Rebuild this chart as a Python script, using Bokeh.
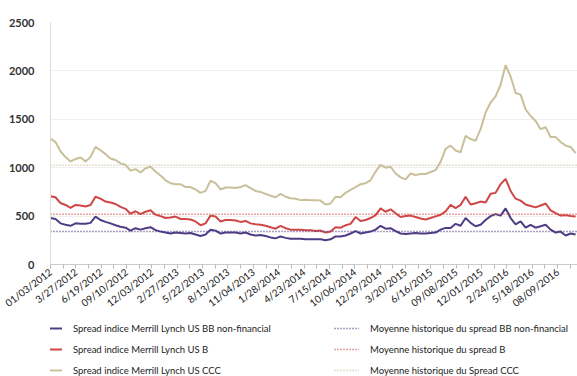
from bokeh.plotting import figure
from bokeh.layouts import column
from bokeh.models import FixedTicker, Legend, LegendItem, Range1d
from bokeh.embed import file_html
from bokeh.resources import INLINE

# x tick labels (every 60 business days)
tick_labels = ["01/03/2012", "3/27/2012", "6/19/2012", "09/10/2012", "12/03/2012",
               "2/27/2013", "5/22/2013", "8/13/2013", "11/04/2013", "1/28/2014",
               "4/23/2014", "7/15/2014", "10/06/2014", "12/29/2014", "3/20/2015",
               "6/16/2015", "09/08/2015", "12/01/2015", "2/24/2016", "5/18/2016",
               "08/09/2016"]
label_step_days = 60
sample_step_days = 11.834   # one reading about every 12 business days

ccc = [1300, 1265, 1170, 1110, 1065, 1090, 1105, 1065, 1110, 1215, 1180, 1140, 1095, 1080,
       1045, 1030, 970, 985, 950, 995, 1010, 960, 920, 870, 840, 830, 830, 800, 800, 775,
       740, 760, 865, 840, 775, 795, 795, 790, 800, 820, 790, 760, 750, 730, 710, 695, 730,
       700, 685, 680, 665, 670, 665, 665, 660, 620, 630, 700, 695, 740, 770, 800, 830, 840,
       870, 960, 1030, 1000, 1010, 940, 900, 880, 940, 925, 935, 935, 955, 975, 1060, 1195,
       1228, 1177, 1160, 1330, 1296, 1279, 1398, 1571, 1673, 1738, 1857, 2060, 1942, 1772,
       1755, 1602, 1534, 1483, 1398, 1418, 1316, 1316, 1265, 1228, 1214, 1150]
b = [705, 695, 635, 615, 585, 615, 610, 600, 615, 700, 680, 650, 640, 625, 595, 575, 525,
     550, 520, 545, 560, 515, 500, 480, 485, 495, 470, 470, 465, 445, 405, 425, 505, 495,
     445, 460, 460, 455, 440, 450, 425, 415, 410, 400, 385, 370, 400, 375, 360, 360, 360,
     355, 355, 345, 350, 330, 340, 385, 380, 405, 420, 490, 450, 460, 480, 510, 580, 545,
     570, 530, 490, 500, 505, 490, 475, 465, 480, 497, 514, 548, 616, 582, 616, 700, 620,
     633, 650, 640, 730, 740, 830, 885, 760, 680, 660, 620, 605, 590, 610, 630, 560, 530,
     505, 510, 500, 495]
bb = [480, 470, 425, 410, 400, 425, 420, 420, 430, 495, 460, 440, 425, 405, 390, 380, 350,
      375, 360, 375, 385, 355, 340, 330, 320, 330, 325, 320, 325, 310, 295, 310, 360, 350,
      320, 330, 330, 330, 320, 330, 310, 300, 305, 295, 280, 270, 290, 275, 265, 265, 265,
      260, 260, 260, 260, 250, 260, 290, 290, 300, 320, 345, 320, 330, 340, 360, 400, 370,
      375, 345, 320, 315, 320, 325, 320, 320, 325, 330, 360, 378, 378, 420, 400, 480, 430,
      395, 410, 460, 500, 520, 505, 580, 480, 415, 445, 380, 410, 380, 395, 410, 360, 330,
      340, 300, 320, 310]

mean_bb = 340
mean_b = 520
mean_ccc = 1025

series_names = ["Spread indice Merrill Lynch US BB non-financial",
                "Spread indice Merrill Lynch US B",
                "Spread indice Merrill Lynch US CCC"]
mean_names = ["Moyenne historique du spread BB non-financial",
              "Moyenne historique du spread B",
              "Moyenne historique du Spread CCC"]

obs = [i * sample_step_days for i in range(len(ccc))]

col_bb = "#4e3d84"
col_b = "#cf4646"
col_ccc = "#c9c09b"
colors = [col_bb, col_b, col_ccc]
series = [bb, b, ccc]
means = [mean_bb, mean_b, mean_ccc]
FONT = "Lato"

x_end = 1247
p = figure(width=577, height=316, output_backend="svg", toolbar_location=None,
           x_range=Range1d(0, x_end), y_range=Range1d(0, 2500),
           min_border_left=50, min_border_right=0, min_border_top=22,
           min_border_bottom=49)
p.outline_line_color = None
p.background_fill_color = "white"

for s, c in zip(series, colors):
    p.line(obs, s, color=c, line_width=2)

xm = [0, x_end]
for mval, c in zip(means, colors):
    p.line(xm, [mval, mval], color=c, line_width=1.5, line_dash="1 2")

# axes
major = [i * label_step_days for i in range(len(tick_labels))]
minor = [m + label_step_days / 2 for m in major]
p.xaxis.ticker = FixedTicker(ticks=major, minor_ticks=minor)
p.xaxis.major_label_overrides = {m: t for m, t in zip(major, tick_labels)}
p.xaxis.major_label_orientation = 0.65
p.xaxis.major_label_text_font = FONT
p.xaxis.major_label_text_font_size = "10px"
p.xaxis.major_label_text_font_style = "normal"
p.xaxis.major_label_text_color = "#1a1a1a"
p.xaxis.axis_line_color = "#cccccc"
p.xaxis.major_tick_line_color = "#bbbbbb"
p.xaxis.minor_tick_line_color = "#bbbbbb"
p.xaxis.major_tick_out = 4
p.xaxis.major_tick_in = 0
p.xaxis.minor_tick_out = 4
p.xaxis.minor_tick_in = 0
p.xaxis.major_label_standoff = 2

p.yaxis.ticker = FixedTicker(ticks=[0, 500, 1000, 1500, 2000, 2500])
p.yaxis.major_label_text_font = FONT
p.yaxis.major_label_text_font_size = "11px"
p.yaxis.major_label_text_font_style = "bold"
p.yaxis.major_label_text_color = "#333333"
p.yaxis.axis_line_color = "#dddddd"
p.yaxis.major_tick_line_color = None
p.yaxis.minor_tick_line_color = None
p.yaxis.major_label_standoff = 10

p.xgrid.grid_line_color = None
p.ygrid.grid_line_color = "#efefef"

# legend strip below the chart (its ranges keep the data lines out of view)
lf = figure(width=577, height=60, output_backend="svg", toolbar_location=None,
            x_range=Range1d(-2, -1), y_range=Range1d(-2, -1),
            x_axis_location=None, y_axis_location=None,
            min_border_left=0, min_border_right=0, min_border_top=0, min_border_bottom=0)
lf.grid.visible = False
lf.outline_line_color = None

solid_r = [lf.line(obs, s, color=c, line_width=2) for s, c in zip(series, colors)]
dot_r = [lf.line(xm, [m, m], color=c, line_width=1.5, line_dash="1 2")
         for m, c in zip(means, colors)]

def make_legend(names, rends, loc):
    return Legend(items=[LegendItem(label=n, renderers=[r]) for n, r in zip(names, rends)],
                  location=loc, orientation="vertical",
                  glyph_width=25, glyph_height=14, label_standoff=11,
                  label_height=16, spacing=5, padding=0, margin=0,
                  border_line_color=None, background_fill_alpha=0,
                  label_text_font=FONT, label_text_font_size="9.5px",
                  label_text_color="#222222")

lf.add_layout(make_legend(series_names, solid_r, (-13, -2)), "center")
lf.add_layout(make_legend(mean_names, dot_r, (284, -2)), "center")

layout = column(p, lf, spacing=0)
open("out.html", "w").write(file_html(layout, INLINE))
